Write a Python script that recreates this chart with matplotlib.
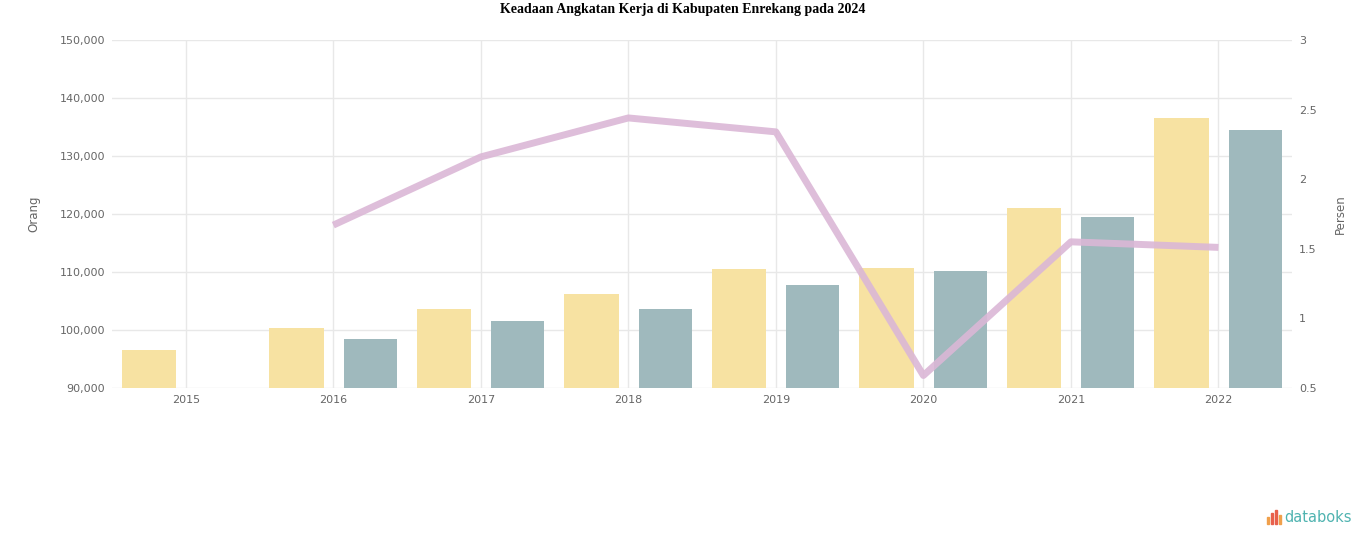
import numpy as np
import matplotlib.pyplot as plt
from matplotlib.patches import Rectangle

#%% data

years = ['2015', '2016', '2017', '2018', '2019', '2020', '2021', '2022']
angkatan_kerja = [96550, 100350, 103600, 106200, 110500, 110700, 121000, 136550]
bekerja = [np.nan, 98450, 101550, 103600, 107750, 110150, 119500, 134500]
tpt = [np.nan, 1.67, 2.16, 2.44, 2.34, 0.59, 1.55, 1.51]

left_ticks = [90000, 100000, 110000, 120000, 130000, 140000, 150000]
right_ticks = [0.5, 1, 1.5, 2, 2.5, 3]

#%%

plt.rcParams['font.family'] = ['DejaVu Sans']

fig = plt.figure(figsize=(13.66, 5.47), dpi=100)
ax = fig.add_axes([0.082, 0.2907, 0.864, 0.6362])
ax2 = ax.twinx()

x = np.arange(len(years))
ax.bar(x - 0.25, angkatan_kerja, width=0.37, color='#f7e2a2', zorder=2)
ax.bar(x + 0.25, bekerja, width=0.36, color='#9fb9bd', zorder=2)

ax2.plot(x, tpt, color='#dbb7d6', linewidth=5, alpha=0.9, solid_capstyle='butt')

ax.set_xlim(-0.5, len(years) - 0.5)
ax.set_ylim(90000, 150000)
ax.set_yticks(left_ticks)
ax.set_yticklabels([f'{v:,}' for v in left_ticks])
ax.set_xticks(x)
ax.set_xticklabels(years)
ax2.set_ylim(0.5, 3)
ax2.set_yticks(right_ticks)
ax2.set_yticklabels([f'{v:g}' for v in right_ticks])

ax.grid(True, color='#e8e8e8', linewidth=1, zorder=0)
ax.set_axisbelow(True)

for a in (ax, ax2):
    for s in a.spines.values():
        s.set_visible(False)
    a.tick_params(length=0, labelsize=8, colors='#666666', pad=5)

ax.set_ylabel('Orang', fontsize=8.5, color='#666666', labelpad=14)
ax2.set_ylabel('Persen', fontsize=8.5, color='#666666', labelpad=12)

fig.text(0.5, 0.982, 'Keadaan Angkatan Kerja di Kabupaten Enrekang pada 2024',
         ha='center', va='center', fontsize=10, fontweight='bold',
         family='Liberation Serif')

# databoks logo
icon_x = [1267, 1271, 1275, 1279]
icon_h = [7, 11, 14, 9]
icon_c = ['#f0a04b', '#e8604c', '#e8604c', '#f0a04b']
for ix, ih, ic in zip(icon_x, icon_h, icon_c):
    fig.add_artist(Rectangle((ix / 1366, (547 - 524) / 547), 2 / 1366, ih / 547,
                             transform=fig.transFigure, color=ic))
fig.text(1284 / 1366, (547 - 518) / 547, 'databoks', fontsize=10.5,
         color='#4fb3b0', va='center', ha='left')

fig.savefig('out.png', dpi=100)
